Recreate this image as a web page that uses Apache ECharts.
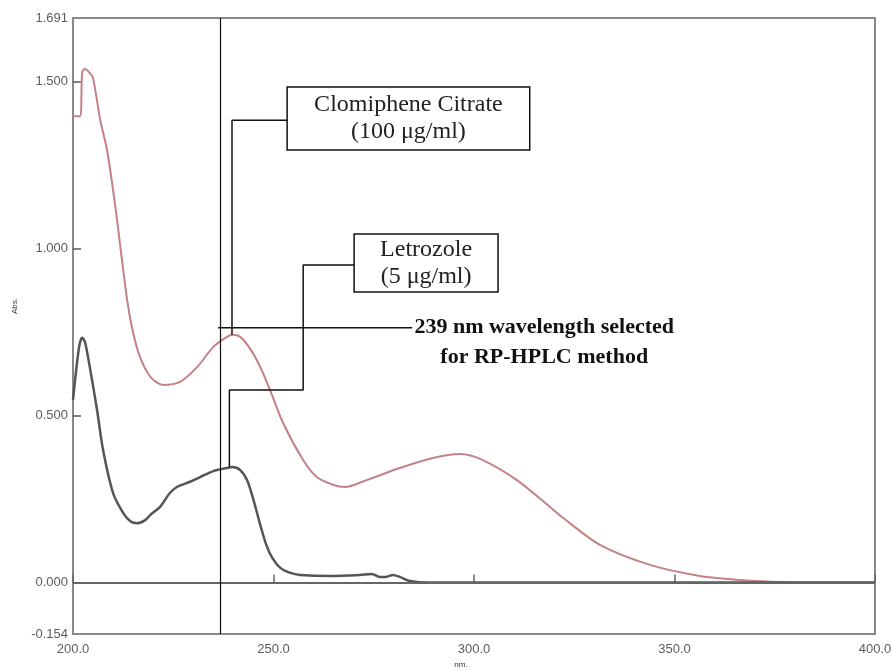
<!DOCTYPE html>
<html>
<head>
<meta charset="utf-8">
<script src="https://cdn.jsdelivr.net/npm/echarts@6/dist/echarts.min.js"></script>
<style>
  html, body { margin: 0; padding: 0; background: #fff; }
  #chart { width: 892px; height: 671px; }
</style>
</head>
<body>
<div id="chart"></div>
<script>
  // spectra (nm / absorbance)
  const clomipheneNm = [200.0, 201.7, 202.3, 203.0, 204.2, 205.0, 206.8, 208.5, 210.0, 211.0, 213.5, 215.0, 216.7, 219.3, 222.5, 226.7, 231.0, 235.0, 238.4, 239.7, 241.7, 244.2, 246.6, 249.1, 252.4, 257.4, 260.8, 264.8, 267.8, 273.2, 281.5, 289.7, 296.5, 302.2, 310.7, 318.9, 322.2, 331.4, 343.9, 356.3, 366.3, 376.2, 400.0]
  const clomipheneAbs = [1.397, 1.397, 1.529, 1.538, 1.526, 1.511, 1.385, 1.295, 1.175, 1.085, 0.846, 0.748, 0.676, 0.616, 0.592, 0.601, 0.646, 0.706, 0.736, 0.742, 0.736, 0.700, 0.648, 0.578, 0.478, 0.367, 0.316, 0.293, 0.286, 0.307, 0.343, 0.373, 0.385, 0.367, 0.307, 0.227, 0.194, 0.113, 0.053, 0.020, 0.008, 0.002, 0.000]

  const letrozoleNm = [200.0, 200.8, 201.6, 202.3, 203.0, 204.2, 206.0, 207.5, 210.0, 212.5, 214.3, 216.0, 218.0, 219.3, 221.7, 224.2, 226.0, 229.2, 231.7, 235.0, 238.4, 239.7, 241.7, 243.4, 245.0, 246.7, 248.2, 249.7, 251.7, 254.2, 256.7, 264.0, 271.5, 274.5, 276.5, 278.0, 279.8, 281.5, 284.0, 289.0, 400.0]
  const letrozoleAbs = [0.547, 0.637, 0.711, 0.733, 0.720, 0.645, 0.517, 0.397, 0.268, 0.209, 0.184, 0.178, 0.187, 0.203, 0.227, 0.269, 0.287, 0.302, 0.316, 0.334, 0.343, 0.346, 0.337, 0.307, 0.248, 0.173, 0.113, 0.074, 0.044, 0.029, 0.023, 0.020, 0.023, 0.026, 0.017, 0.017, 0.023, 0.017, 0.005, 0.000, 0.000]

  const yLabelValues = [-0.154, 0, 0.5, 1, 1.5, 1.691]
  const yTickValues = [0, 0.5, 1, 1.5]

  const selectedNm = 236.7   // vertical marker line

  const zip = (xs, ys) => xs.map((x, i) => [x, ys[i]])

  const chart = echarts.init(document.getElementById('chart'))

  const leaderStyle = { color: '#111', width: 1.5 }
  const boxLabel = {
    show: true,
    position: 'inside',
    fontFamily: 'Liberation Serif',
    fontSize: 24,
    lineHeight: 27,
    color: '#222'
  }

  const option = {
    animation: false,
    grid: {
      left: 73, right: 17, top: 18, bottom: 37,
      containLabel: false,
      outerBoundsMode: 'none',
      show: true,
      borderColor: '#888',
      borderWidth: 2
    },
    xAxis: {
      type: 'value',
      min: 200,
      max: 400,
      interval: 50,
      axisLine: { show: true, lineStyle: { color: '#888', width: 2 } },
      axisTick: { show: true, inside: true, length: 8, lineStyle: { color: '#666', width: 1.5 } },
      axisLabel: {
        margin: 9,
        color: '#5c5c5c',
        fontSize: 13,
        fontFamily: 'Liberation Sans',
        formatter: v => v.toFixed(1)
      },
      splitLine: { show: false }
    },
    yAxis: {
      type: 'value',
      min: -0.154,
      max: 1.691,
      axisLine: { show: true, lineStyle: { color: '#888', width: 2 } },
      axisTick: { show: true, inside: true, length: 8, customValues: yTickValues, lineStyle: { color: '#555', width: 1.5 } },
      axisLabel: {
        margin: 5,
        color: '#5c5c5c',
        fontSize: 13,
        fontFamily: 'Liberation Sans',
        customValues: yLabelValues,
        formatter: v => v.toFixed(3)
      },
      splitLine: { show: false }
    },
    series: [
      {
        name: 'Clomiphene Citrate',
        type: 'line',
        data: zip(clomipheneNm, clomipheneAbs),
        showSymbol: false,
        smooth: 0.3,
        z: 3,
        lineStyle: { color: '#c48285', width: 2 },
        markLine: {
          silent: true,
          symbol: 'none',
          label: { show: false },
          data: [
            { yAxis: 0, lineStyle: { color: '#666', width: 2, type: 'solid' } },
            { xAxis: selectedNm, lineStyle: { color: '#111', width: 1.2, type: 'solid' } }
          ]
        }
      },
      {
        name: 'Letrozole',
        type: 'line',
        data: zip(letrozoleNm, letrozoleAbs),
        showSymbol: false,
        smooth: 0.3,
        z: 3,
        lineStyle: { color: '#555', width: 2.5 }
      },
      {
        // leader to the Clomiphene Citrate box
        type: 'line',
        silent: true,
        showSymbol: false,
        data: [[239.65, 0.742], [239.65, 1.385], [253.4, 1.385]],
        lineStyle: leaderStyle,
        markArea: {
          silent: true,
          itemStyle: { color: '#fff', borderColor: '#111', borderWidth: 1.5 },
          label: Object.assign({}, boxLabel, { formatter: 'Clomiphene Citrate\n(100 μg/ml)' }),
          data: [[{ coord: [253.4, 1.484] }, { coord: [313.9, 1.296] }]]
        }
      },
      {
        // leader to the Letrozole box
        type: 'line',
        silent: true,
        showSymbol: false,
        data: [[239.0, 0.346], [239.0, 0.577], [257.4, 0.577], [257.4, 0.951], [270.1, 0.951]],
        lineStyle: leaderStyle,
        markArea: {
          silent: true,
          itemStyle: { color: '#fff', borderColor: '#111', borderWidth: 1.5 },
          label: Object.assign({}, boxLabel, { formatter: 'Letrozole\n(5 μg/ml)' }),
          data: [[{ coord: [270.1, 1.044] }, { coord: [306.0, 0.870] }]]
        }
      },
      {
        // 239 nm pointer
        type: 'line',
        silent: true,
        showSymbol: false,
        data: [[236.2, 0.763], [284.6, 0.763]],
        lineStyle: leaderStyle
      }
    ]
  }

  chart.setOption(option)

  // axis names and the note at the end of the pointer line
  const anchor = chart.convertToPixel({ gridIndex: 0 }, [284.6, 0.763])
  chart.setOption({
    graphic: [
      {
        id: 'absName', type: 'text', x: 15, y: 306, rotation: Math.PI / 2,
        style: { text: 'Abs.', fontSize: 8, fill: '#333', fontFamily: 'Liberation Sans', align: 'center', verticalAlign: 'middle' }
      },
      {
        id: 'nmName', type: 'text', x: 461, y: 665,
        style: { text: 'nm.', fontSize: 8, fill: '#333', fontFamily: 'Liberation Sans', align: 'center', verticalAlign: 'middle' }
      },
      {
        id: 'note', type: 'text',
        x: anchor[0] + 132,
        y: anchor[1] - 16,
        style: {
          text: '239 nm wavelength selected\nfor RP-HPLC method',
          fontFamily: 'Liberation Serif',
          fontWeight: 'bold',
          fontSize: 22,
          lineHeight: 30,
          fill: '#111',
          align: 'center',
          verticalAlign: 'top'
        }
      }
    ]
  })
</script>
</body>
</html>
